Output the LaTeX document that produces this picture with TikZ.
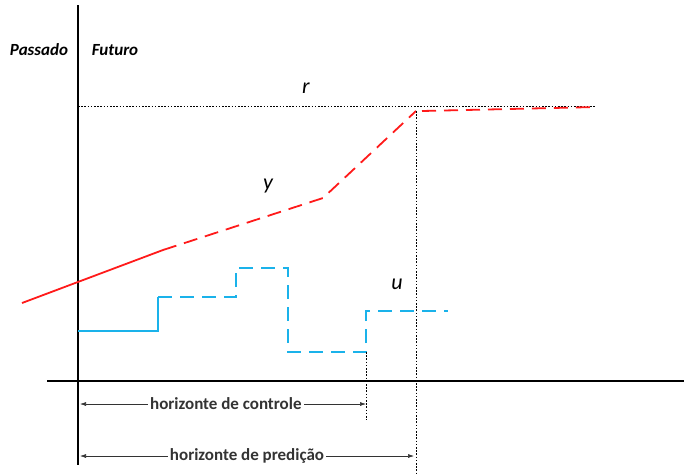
\documentclass[tikz,border=0pt]{standalone}
\usepackage{fontspec}
\setmainfont{Carlito}
\usetikzlibrary{arrows.meta}
\definecolor{sigred}{HTML}{FF1A1A}
\definecolor{sigblue}{HTML}{1AB2EA}

\begin{document}
\begin{tikzpicture}[x=1pt,y=-1pt,>={Latex[length=6pt,width=4pt]},
 axis/.style={line width=1.8pt,black},
 ref/.style={line width=1pt,dash pattern=on 1.6pt off 1.6pt},
 outp/.style={line width=1.8pt,sigred},
 inp/.style={line width=1.6pt,sigblue},
 dashes/.style={dash pattern=on 14pt off 8pt},
 span/.style={line width=0.6pt,black!80,<->},
 lbl/.style={font=\fontsize{17}{19}\selectfont\bfseries,fill=white,inner sep=2pt},
 sig/.style={font=\fontsize{22}{24}\selectfont\itshape},
 side/.style={font=\fontsize{17}{19}\selectfont\bfseries\itshape}]
\useasboundingbox (0,0) rectangle (684,475);
% axes
\coordinate (top) at (78,5);
\coordinate (bot) at (78,465);
\coordinate (left) at (47,381);
\coordinate (right) at (684,381);
\draw[axis] (top)--(bot);
\draw[axis] (left)--(right);
\node[side] (past) at (39,50) {Passado};
\node[side] (fut) at (115,50) {Futuro};
% reference
\coordinate (r0) at (78,106);
\coordinate (r1) at (596,106);
\draw[ref] (r0)--(r1);
\node[sig] (rlab) at (306,88) {r};
% output
\coordinate (y0) at (22,303);
\coordinate (y1) at (163,250);
\coordinate (y2) at (323,198);
\coordinate (y3) at (416,111);
\coordinate (y4) at (596,107);
\draw[outp] (y0)--(y1);
\draw[outp,dashes] (y1)--(y2)--(y3);
\draw[outp,dashes] ([xshift=6pt]y3)--(y4);
\node[sig] (ylab) at (268,186) {y};
% input
\coordinate (u0) at (78,331);
\coordinate (u1) at (158,331);
\coordinate (u2) at (158,297);
\coordinate (u3) at (236,297);
\coordinate (u4) at (236,268);
\coordinate (u5) at (288,268);
\coordinate (u6) at (288,352);
\coordinate (u7) at (366,352);
\coordinate (u8) at (366,311);
\coordinate (u9) at (448,311);
\draw[inp] (u0)--(u1)--(u2);
\draw[inp,dashes] (u2)--(u3)--(u4)--(u5)--(u6)--(u7)--(u8)--(u9);
\node[sig] (ulab) at (397,284) {u};
% horizons
\coordinate (hc) at (366,420);
\coordinate (hp) at (416,475);
\draw[ref] (u7)--(hc);
\draw[ref] (y3)--(hp);
\draw[span] (80,404)--(366,404) node[lbl,pos=0.51] (ctrl) {horizonte de controle};
\draw[span] (80,456)--(414,456) node[lbl,pos=0.5] (pred) {horizonte de predição};
\end{tikzpicture}
\end{document}
